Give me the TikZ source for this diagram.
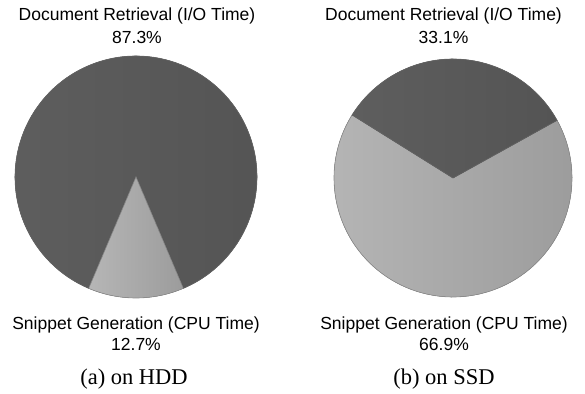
\documentclass[tikz,border=0pt]{standalone}
\usepackage{fontspec}
\setmainfont{Liberation Serif}
\newfontfamily\labelfont{Liberation Sans}
\usepackage{tikz}
\usetikzlibrary{positioning}
\definecolor{darkslice}{HTML}{5E5E5E}
\definecolor{darkslicer}{HTML}{545454}
\definecolor{lightslice}{HTML}{B6B6B6}
\definecolor{lightslicer}{HTML}{9C9C9C}
\tikzstyle{slice_dark}=[left color=darkslice, right color=darkslicer, draw=black!60, line width=0.6pt]
\tikzstyle{slice_light}=[left color=lightslice, right color=lightslicer, draw=black!45, line width=0.6pt]
\tikzstyle{pie_label}=[font=\labelfont\fontsize{17.5}{20}\selectfont, inner sep=0pt, anchor=base]
\tikzstyle{sub_caption}=[font=\fontsize{22.5}{24}\selectfont, inner sep=0pt, anchor=base]

\begin{document}
\begin{tikzpicture}[x=1pt, y=1pt]
\useasboundingbox (0,0) rectangle (585,393);
% (a) on HDD
\coordinate (hdd) at (136,216);
\fill[slice_dark] (hdd) -- ++(293:121) arc (293:607:121) -- cycle;
\fill[slice_light] (hdd) -- ++(247:121) arc (247:293:121) -- cycle;
\node[pie_label] (hddret) at (137,372.3){Document Retrieval (I/O Time)};
\node[pie_label] (hddretpct) at (137,349){87.3\%};
\node[pie_label] (hddsnip) at (136,63.7){Snippet Generation (CPU Time)};
\node[pie_label] (hddsnippct) at (136,43){12.7\%};
\node[sub_caption] (hddcap) at (134,9){(a) on HDD};
% (b) on SSD
\coordinate (ssd) at (453,215);
\fill[slice_light] (ssd) -- ++(148:119) arc (148:389:119) -- cycle;
\fill[slice_dark] (ssd) -- ++(29:119) arc (29:148:119) -- cycle;
\node[pie_label] (ssdret) at (443.5,372.3){Document Retrieval (I/O Time)};
\node[pie_label] (ssdretpct) at (443.5,349){33.1\%};
\node[pie_label] (ssdsnip) at (444,63.7){Snippet Generation (CPU Time)};
\node[pie_label] (ssdsnippct) at (444,43){66.9\%};
\node[sub_caption] (ssdcap) at (444,9){(b) on SSD};
\end{tikzpicture}
\end{document}
